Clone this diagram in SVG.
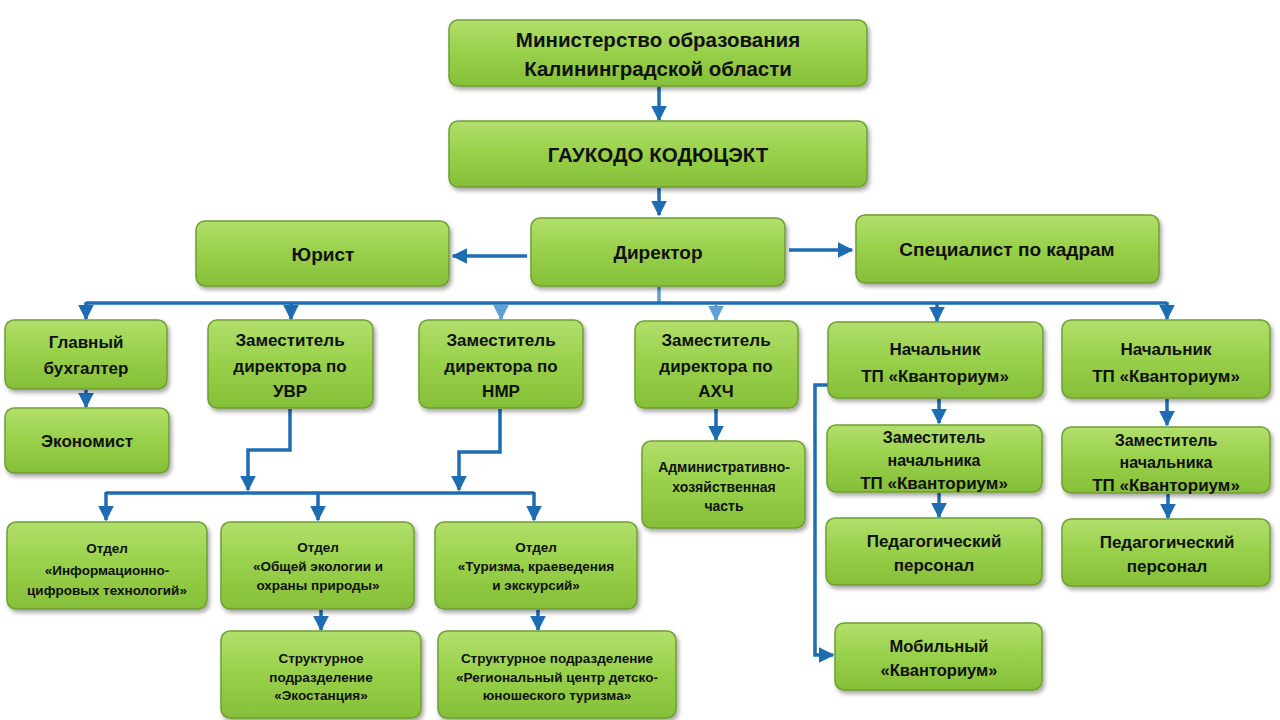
<svg xmlns="http://www.w3.org/2000/svg" width="1280" height="720" viewBox="0 0 1280 720">
<defs>
<linearGradient id="g" x1="0" y1="0" x2="0" y2="1">
<stop offset="0" stop-color="#b2df6c"/>
<stop offset="0.5" stop-color="#98d04a"/>
<stop offset="1" stop-color="#86bf38"/>
</linearGradient>
<filter id="sh" x="-10%" y="-10%" width="125%" height="135%">
<feDropShadow dx="2" dy="3" stdDeviation="2" flood-color="#000" flood-opacity="0.35"/>
</filter>
<marker id="ar" viewBox="0 0 10 10" refX="9" refY="5" markerWidth="4.5" markerHeight="4.5" orient="auto" markerUnits="strokeWidth">
<path d="M0,0 L10,5 L0,10 z" fill="#1e6db3"/>
</marker>
<marker id="al" viewBox="0 0 10 10" refX="9" refY="5" markerWidth="4.5" markerHeight="4.5" orient="auto" markerUnits="strokeWidth">
<path d="M0,0 L10,5 L0,10 z" fill="#5f9fd8"/>
</marker>
<style>
.b{fill:url(#g);stroke:#6f9f32;stroke-width:1.5;filter:url(#sh)}
.t{font-family:"Liberation Sans",Arial,sans-serif;font-weight:bold;fill:#111;text-anchor:middle}
.c{fill:none;stroke:#1e6db3;stroke-width:3.5}
.a{marker-end:url(#ar)}
.l{fill:none;stroke:#5f9fd8;stroke-width:3.5;marker-end:url(#al)}
.l2{fill:none;stroke:#5f9fd8;stroke-width:3.5}
</style>
</defs>
<rect width="1280" height="720" fill="#fff"/>
<g id="connectors">
<path class="c a" d="M659,87 V120"/>
<path class="c a" d="M659,188 V215"/>
<path class="c a" d="M527,256 H453"/>
<path class="c a" d="M789,250 H852"/>
<path class="l2" d="M659,287 V303"/>
<path class="c" d="M86,303 H1167"/>
<path class="c a" d="M86,302 V319"/>
<path class="c a" d="M291,302 V319"/>
<path class="l" d="M501,305 V319"/>
<path class="l" d="M716,305 V320"/>
<path class="c a" d="M937,302 V321"/>
<path class="c a" d="M1167,302 V319"/>
<path class="c a" d="M86,390 V407"/>
<path class="c a" d="M290,409 V450 H248 V490"/>
<path class="c a" d="M500,409 V452 H459 V490"/>
<path class="c" d="M106,493 H534"/>
<path class="c a" d="M106,492 V520"/>
<path class="c a" d="M318,492 V520"/>
<path class="c a" d="M534,492 V520"/>
<path class="c a" d="M321,610 V630"/>
<path class="c a" d="M538,610 V630"/>
<path class="c a" d="M716,409 V440"/>
<path class="c a" d="M939,399 V423"/>
<path class="c a" d="M939,493 V517"/>
<path class="c a" d="M1167,399 V425"/>
<path class="c a" d="M1168,494 V518"/>
<path class="c a" d="M828,385 H815 V655 H833"/>
</g>
<g id="n1"><rect class="b" x="449" y="20" width="418" height="66" rx="9"/><text class="t" font-size="20.5"><tspan x="658" y="47">Министерство образования</tspan><tspan x="658" y="76">Калининградской области</tspan></text></g>
<g id="n2"><rect class="b" x="449" y="121" width="418" height="66" rx="9"/><text class="t" font-size="20.5" x="658" y="162">ГАУКОДО КОДЮЦЭКТ</text></g>
<g id="n3"><rect class="b" x="196" y="221" width="253" height="65" rx="9"/><text class="t" font-size="19" x="323" y="261">Юрист</text></g>
<g id="n4"><rect class="b" x="531" y="218" width="254" height="68" rx="9"/><text class="t" font-size="19" x="658" y="259">Директор</text></g>
<g id="n5"><rect class="b" x="856" y="215" width="303" height="68" rx="9"/><text class="t" font-size="19" x="1007" y="256">Специалист по кадрам</text></g>
<g id="n6"><rect class="b" x="5" y="320" width="162" height="69" rx="9"/><text class="t" font-size="17"><tspan x="86" y="348">Главный</tspan><tspan x="86" y="374">бухгалтер</tspan></text></g>
<g id="n7"><rect class="b" x="5" y="408" width="164" height="65" rx="9"/><text class="t" font-size="17" x="87" y="447">Экономист</text></g>
<g id="n8"><rect class="b" x="208" y="320" width="165" height="88" rx="9"/><text class="t" font-size="17"><tspan x="290" y="346">Заместитель</tspan><tspan x="290" y="372">директора по</tspan><tspan x="290" y="397">УВР</tspan></text></g>
<g id="n9"><rect class="b" x="419" y="320" width="164" height="88" rx="9"/><text class="t" font-size="17"><tspan x="501" y="346">Заместитель</tspan><tspan x="501" y="372">директора по</tspan><tspan x="501" y="397">НМР</tspan></text></g>
<g id="n10"><rect class="b" x="635" y="321" width="163" height="87" rx="9"/><text class="t" font-size="17"><tspan x="716" y="346">Заместитель</tspan><tspan x="716" y="372">директора по</tspan><tspan x="716" y="397">АХЧ</tspan></text></g>
<g id="n11"><rect class="b" x="828" y="322" width="215" height="76" rx="9"/><text class="t" font-size="17"><tspan x="935" y="355">Начальник</tspan><tspan x="935" y="382">ТП «Кванториум»</tspan></text></g>
<g id="n12"><rect class="b" x="1062" y="320" width="208" height="78" rx="9"/><text class="t" font-size="17"><tspan x="1166" y="355">Начальник</tspan><tspan x="1166" y="382">ТП «Кванториум»</tspan></text></g>
<g id="n13"><rect class="b" x="642" y="441" width="163" height="87" rx="9"/><text class="t" font-size="14"><tspan x="724" y="472">Административно-</tspan><tspan x="724" y="492">хозяйственная</tspan><tspan x="724" y="511">часть</tspan></text></g>
<g id="n14"><rect class="b" x="827" y="425" width="215" height="67" rx="9"/><text class="t" font-size="16"><tspan x="934" y="443">Заместитель</tspan><tspan x="934" y="466">начальника</tspan><tspan x="934" y="489" font-size="17">ТП «Кванториум»</tspan></text></g>
<g id="n15"><rect class="b" x="1062" y="427" width="208" height="66" rx="9"/><text class="t" font-size="16"><tspan x="1166" y="446">Заместитель</tspan><tspan x="1166" y="468">начальника</tspan><tspan x="1166" y="491" font-size="17">ТП «Кванториум»</tspan></text></g>
<g id="n16"><rect class="b" x="826" y="518" width="216" height="67" rx="9"/><text class="t" font-size="17"><tspan x="934" y="547">Педагогический</tspan><tspan x="934" y="571">персонал</tspan></text></g>
<g id="n17"><rect class="b" x="1062" y="519" width="208" height="67" rx="9"/><text class="t" font-size="17"><tspan x="1167" y="548">Педагогический</tspan><tspan x="1167" y="572">персонал</tspan></text></g>
<g id="n18"><rect class="b" x="835" y="623" width="207" height="67" rx="9"/><text class="t" font-size="16.5"><tspan x="939" y="652">Мобильный</tspan><tspan x="939" y="676">«Кванториум»</tspan></text></g>
<g id="n19"><rect class="b" x="7" y="522" width="200" height="87" rx="9"/><text class="t" font-size="13.5"><tspan x="107" y="553">Отдел</tspan><tspan x="107" y="575">«Информационно-</tspan><tspan x="107" y="595">цифровых технологий»</tspan></text></g>
<g id="n20"><rect class="b" x="221" y="522" width="193" height="87" rx="9"/><text class="t" font-size="13.5"><tspan x="318" y="552">Отдел</tspan><tspan x="318" y="571">«Общей экологии и</tspan><tspan x="318" y="590">охраны природы»</tspan></text></g>
<g id="n21"><rect class="b" x="435" y="522" width="202" height="87" rx="9"/><text class="t" font-size="13.5"><tspan x="536" y="552">Отдел</tspan><tspan x="536" y="571">«Туризма, краеведения</tspan><tspan x="536" y="590">и экскурсий»</tspan></text></g>
<g id="n22"><rect class="b" x="221" y="631" width="200" height="87" rx="9"/><text class="t" font-size="13.5"><tspan x="321" y="663">Структурное</tspan><tspan x="321" y="682">подразделение</tspan><tspan x="321" y="700">«Экостанция»</tspan></text></g>
<g id="n23"><rect class="b" x="438" y="631" width="238" height="87" rx="9"/><text class="t" font-size="13.5"><tspan x="557" y="663">Структурное подразделение</tspan><tspan x="557" y="682">«Региональный центр детско-</tspan><tspan x="557" y="700">юношеского туризма»</tspan></text></g>
</svg>
